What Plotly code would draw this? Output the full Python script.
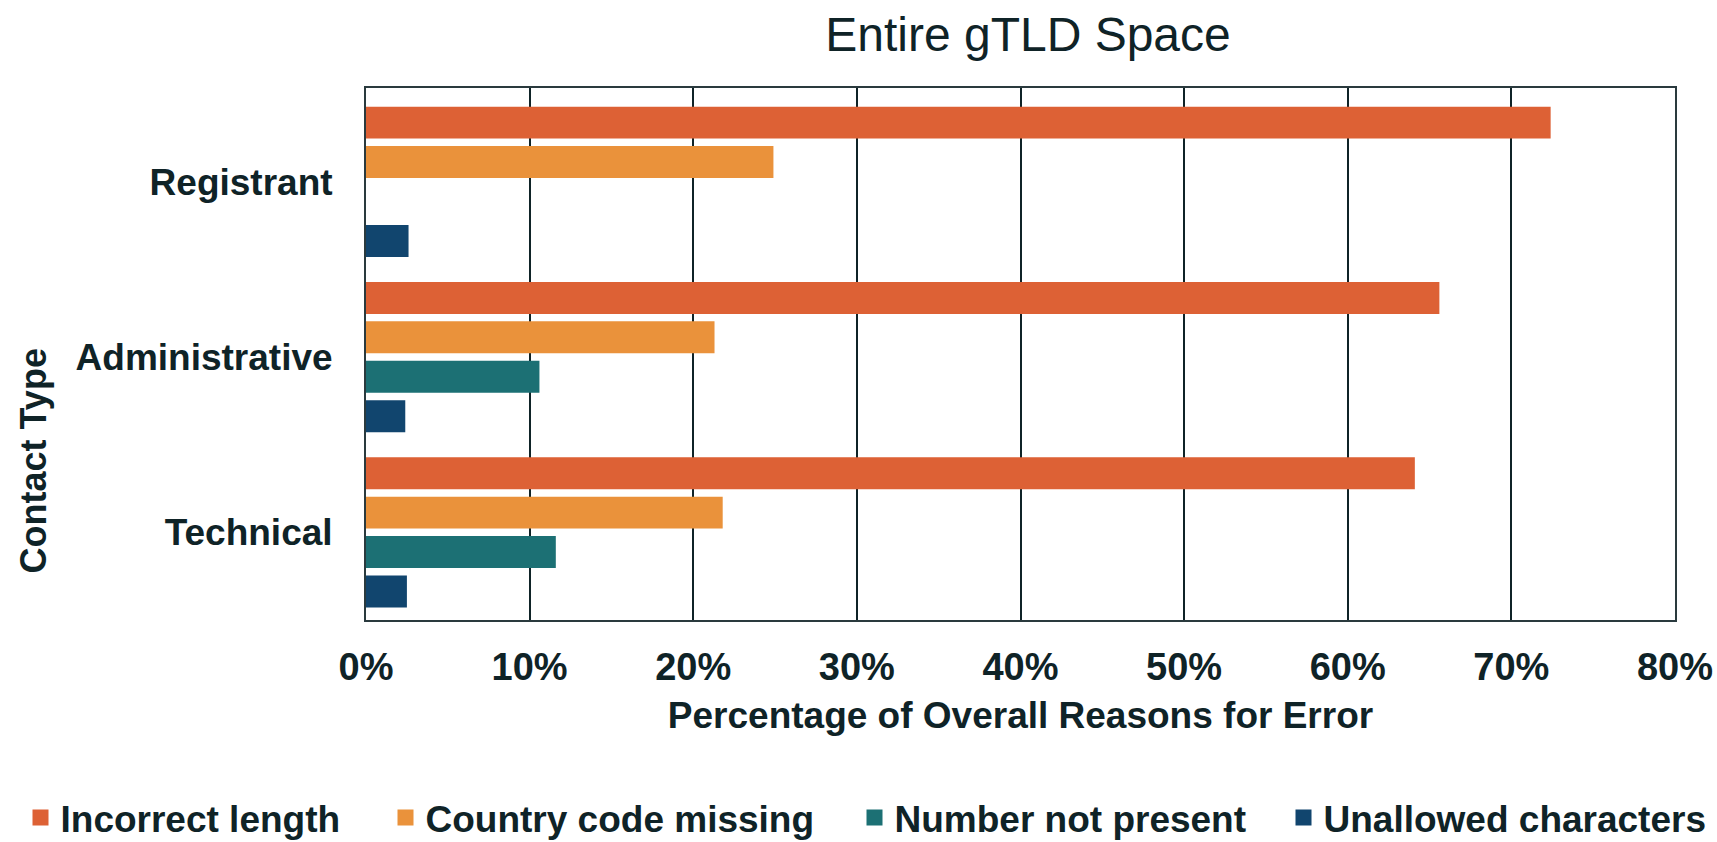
import plotly.graph_objects as go

categories = ["Registrant", "Administrative", "Technical"]
series_names = ["Incorrect length", "Country code missing", "Number not present", "Unallowed characters"]
incorrect_length = [72.4, 65.6, 64.1]
country_code_missing = [24.9, 21.3, 21.8]
number_not_present = [None, 10.6, 11.6]
unallowed_characters = [2.6, 2.4, 2.5]
x_ticks = [0, 10, 20, 30, 40, 50, 60, 70, 80]

values = [incorrect_length, country_code_missing, number_not_present, unallowed_characters]
colors = ["#DD6135", "#EA923B", "#1C7074", "#11456E"]
legend_ids = ["legend", "legend2", "legend3", "legend4"]
legend_x_px = [20.5, 385.5, 854.5, 1283.5]

W, H = 1717, 842
FONT = "Liberation Sans, Arial, sans-serif"
TXT = "#0F2327"

fig = go.Figure()
for name, vals, col in zip(series_names, values, colors):
    fig.add_trace(go.Bar(
        y=categories, x=vals, name=name, orientation="h",
        marker=dict(color=col, line=dict(width=0)),
        showlegend=False,
    ))
# legend entries (square swatches)
for name, col, lg in zip(series_names, colors, legend_ids):
    fig.add_trace(go.Scatter(
        x=[None], y=[None], mode="markers", name=name,
        marker=dict(symbol="square", size=19, color=col, line=dict(width=0)),
        legend=lg, showlegend=True, hoverinfo="skip",
    ))

layout_legends = {}
for lg, lx in zip(legend_ids, legend_x_px):
    layout_legends[lg] = dict(
        xref="container", yref="container",
        x=lx / W, xanchor="left", y=1 - 818 / H, yanchor="middle",
        orientation="h", bgcolor="rgba(0,0,0,0)",
        font=dict(family=FONT, size=37, color=TXT, weight="bold"),
    )

fig.update_layout(
    width=W, height=H,
    margin=dict(l=366, r=42, t=88, b=222, autoexpand=False),
    paper_bgcolor="white", plot_bgcolor="white",
    barmode="group", bargap=0.10, bargroupgap=0.19,
    title=dict(text="Entire gTLD Space", x=1028 / W, xanchor="center",
               y=1 - 34 / H, yanchor="middle",
               font=dict(family=FONT, size=48, color=TXT)),
    showlegend=True,
    font=dict(family=FONT, color=TXT),
    **layout_legends,
)

fig.update_xaxes(
    range=[0, 80], tickvals=x_ticks, ticktext=[f"{v}%" for v in x_ticks],
    showgrid=True, gridcolor=TXT, gridwidth=1.5,
    showline=True, linecolor="#2a3a3e", linewidth=2, mirror=True,
    ticks="outside", ticklen=12, tickcolor="rgba(0,0,0,0)",
    tickfont=dict(family=FONT, size=38, color=TXT, weight="bold"),
    title=dict(text="Percentage of Overall Reasons for Error",
               font=dict(family=FONT, size=37, color=TXT, weight="bold"),
               standoff=16),
    zeroline=False, automargin=False,
)
fig.update_yaxes(
    range=[2.50, -0.535],
    showline=True, linecolor="#2a3a3e", linewidth=2, mirror=True,
    ticks="outside", ticklen=24, tickcolor="rgba(0,0,0,0)",
    tickfont=dict(family=FONT, size=37, color=TXT, weight="bold"),
    showgrid=False, automargin=False,
)

fig.add_annotation(
    text="Contact Type", textangle=-90, xref="paper", yref="paper",
    x=-0.254, y=0.299, xanchor="center", yanchor="middle", showarrow=False,
    font=dict(family=FONT, size=36, color=TXT, weight="bold"),
)

fig.write_html("out.html", config={"displayModeBar": False},
               post_script="document.body.style.margin='0';")
